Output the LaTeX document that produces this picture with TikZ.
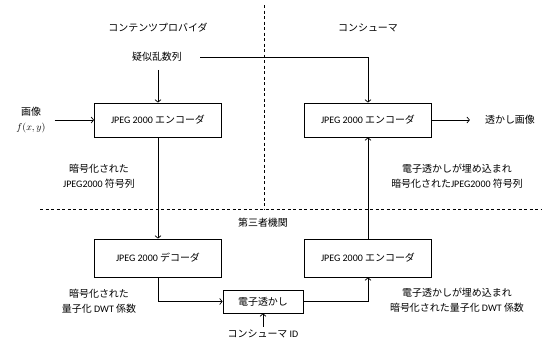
\documentclass[tikz,border=0pt]{standalone}
\usepackage{fontspec}
\setmainfont{Carlito}
\newfontfamily\jp{Noto Sans CJK JP}
\usetikzlibrary{arrows.meta}
\begin{document}
\begin{tikzpicture}[x=1bp,y=-1bp,
  every node/.style={font=\fontsize{10}{15}\selectfont, inner sep=0pt},
  >={Straight Barb[length=2.5bp,width=6bp]},
  line/.style={line width=0.7bp},
  blk/.style={draw, line width=0.8bp, minimum width=127bp},
  tblk/.style={blk, minimum height=34bp},
  bblk/.style={blk, minimum height=38bp},
  lab/.style={align=center},
  sep/.style={dashed, line width=0.6bp, dash pattern=on 3bp off 2.5bp}]
\useasboundingbox (0,0) rectangle (542,341);

% separators
\coordinate (vt) at (264,5);
\coordinate (vb) at (264,209);
\coordinate (hl) at (40,209);
\coordinate (hr) at (542,209);
\draw[sep] (vt) -- (vb);
\draw[sep] (hl) -- (hr);

% headings
\node (cp) at (158,28) {\jp コンテンツプロバイダ};
\node (cons) at (368,28) {\jp コンシューマ};
\node (tp) at (263,223) {\jp 第三者機関};

% labels
\node (prng) at (157,57) {\jp 疑似乱数列};
\node[lab] (img) at (31,120) {{\jp 画像}\\$f(x,y)$};
\node (out) at (510,120) {\jp 透かし画像};
\node[lab] (l1) at (99,176) {{\jp 暗号化された}\\JPEG2000 {\jp 符号列}};
\node[lab] (r1) at (457,176) {{\jp 電子透かしが埋め込まれ}\\{\jp 暗号化された}JPEG2000 {\jp 符号列}};
\node[lab] (l2) at (99,301) {{\jp 暗号化された}\\{\jp 量子化} DWT {\jp 係数}};
\node[lab] (r2) at (457,300) {{\jp 電子透かしが埋め込まれ}\\{\jp 暗号化された量子化} DWT {\jp 係数}};
\node (cid) at (263,334) {{\jp コンシューマ} ID};

% blocks
\node[tblk] (enc1) at (158,120) {JPEG 2000 {\jp エンコーダ}};
\node[tblk] (enc2) at (368,120) {JPEG 2000 {\jp エンコーダ}};
\node[bblk] (dec) at (158,258) {JPEG 2000 {\jp デコーダ}};
\node[bblk] (enc3) at (368,258) {JPEG 2000 {\jp エンコーダ}};
\node[draw, line width=0.8bp, minimum width=80bp, minimum height=23bp] (wm) at (263,301.5) {\jp 電子透かし};

% connectors
\draw[line,->,shorten <=8bp] (prng.south -| enc1) -- (enc1);
\draw[line,->,shorten <=18bp] (prng.east) -| (enc2);
\draw[line,->,shorten <=9bp] (img.east |- enc1.west) -- (enc1.west);
\draw[line,->,shorten >=15bp] (enc2.east) -- (out.west |- enc2.east);
\draw[line,->] (enc1) -- (dec);
\draw[line,->] (dec) |- (wm);
\draw[line,->] (wm) -| (enc3);
\draw[line,->] (enc3) -- (enc2);
\draw[line,->,shorten <=3bp] (cid.north -| wm) -- (wm);
\end{tikzpicture}
\end{document}
